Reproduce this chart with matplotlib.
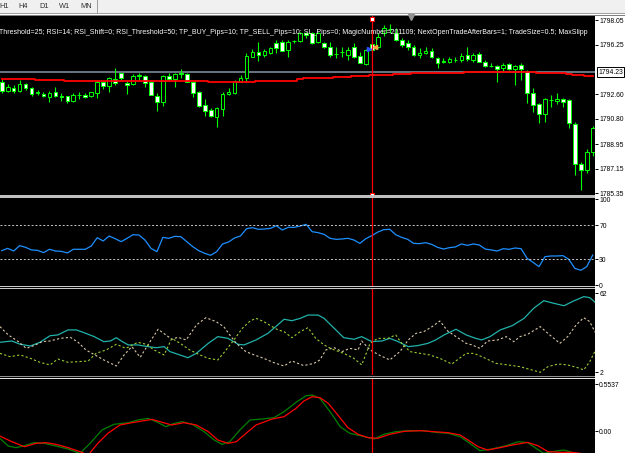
import matplotlib
matplotlib.use('Agg')
import matplotlib.pyplot as plt
import matplotlib.transforms as mtransforms
from matplotlib.patches import Rectangle

plt.rcParams['font.family'] = ['Liberation Sans', 'DejaVu Sans']

W, H = 625, 453

# --- price data (one candle per bar) ---
opens = [1793.52, 1792.86, 1793.08, 1792.86, 1793.38, 1793.08, 1792.75, 1792.64, 1792.42, 1792.77,
         1792.45, 1792.45, 1792.08, 1792.57, 1792.57, 1792.45, 1792.69, 1793.50, 1793.23, 1793.74,
         1794.18, 1793.45, 1793.33, 1794.04, 1793.94, 1793.52, 1792.47, 1792.05, 1793.94, 1793.72,
         1794.16, 1794.07, 1793.50, 1792.75, 1791.79, 1791.45, 1790.95, 1791.54, 1792.62, 1792.72,
         1793.52, 1793.77, 1795.36, 1795.73, 1795.48, 1795.61, 1796.39, 1796.46, 1795.85, 1796.51,
         1796.53, 1797.08, 1797.08, 1796.44, 1796.39, 1796.09, 1795.58, 1795.73, 1795.48, 1796.09,
         1795.41, 1794.82, 1796.29, 1796.09, 1797.08, 1797.39, 1797.08, 1796.58, 1796.36, 1796.09,
         1795.48, 1795.61, 1795.78, 1795.24, 1795.02, 1794.95, 1795.09, 1795.12, 1795.48, 1795.12,
         1795.53, 1794.99, 1794.70, 1794.68, 1794.51, 1794.80, 1794.43, 1794.75, 1794.33, 1792.67,
         1791.89, 1791.15, 1792.20, 1792.13, 1792.25, 1792.18, 1790.42, 1787.48, 1787.04, 1788.38]
highs = [1793.70, 1793.33, 1793.28, 1793.65, 1793.45, 1793.16, 1792.91, 1792.75, 1792.84, 1793.16,
         1792.72, 1792.50, 1792.67, 1792.75, 1792.72, 1792.79, 1793.65, 1793.60, 1793.85, 1794.55,
         1794.20, 1793.55, 1794.07, 1794.18, 1794.04, 1793.65, 1792.67, 1794.01, 1794.18, 1794.18,
         1794.48, 1794.18, 1793.55, 1792.84, 1792.23, 1791.59, 1791.67, 1792.77, 1793.04, 1793.65,
         1793.99, 1795.65, 1795.90, 1796.46, 1795.92, 1796.09, 1796.58, 1796.58, 1796.58, 1796.58,
         1797.15, 1797.19, 1797.19, 1797.19, 1796.46, 1796.46, 1796.09, 1796.09, 1796.09, 1796.34,
         1795.73, 1795.92, 1796.36, 1797.10, 1797.69, 1797.76, 1797.47, 1796.73, 1796.58, 1796.22,
         1795.98, 1796.09, 1795.98, 1795.36, 1795.24, 1795.34, 1795.36, 1795.61, 1796.07, 1795.61,
         1795.70, 1795.12, 1794.87, 1794.75, 1794.87, 1794.87, 1794.75, 1794.87, 1794.38, 1793.04,
         1791.94, 1792.30, 1792.55, 1792.72, 1792.30, 1792.23, 1790.59, 1787.65, 1788.56, 1790.27]
lows = [1792.72, 1792.79, 1792.72, 1792.79, 1792.91, 1792.47, 1792.55, 1792.40, 1792.03, 1792.38,
        1792.11, 1791.96, 1792.03, 1792.28, 1792.33, 1792.42, 1792.33, 1792.97, 1792.79, 1793.28,
        1793.65, 1792.64, 1793.28, 1793.63, 1793.16, 1792.52, 1791.37, 1791.76, 1793.65, 1793.16,
        1793.82, 1793.48, 1792.38, 1791.69, 1791.03, 1790.93, 1790.20, 1791.03, 1792.55, 1792.64,
        1793.48, 1793.52, 1795.31, 1795.07, 1795.31, 1795.56, 1795.61, 1795.78, 1795.31, 1796.34,
        1796.46, 1796.71, 1796.29, 1796.34, 1795.98, 1795.36, 1795.26, 1795.36, 1795.12, 1795.26,
        1794.87, 1794.75, 1795.70, 1796.00, 1796.88, 1797.10, 1796.51, 1796.07, 1795.85, 1795.41,
        1795.26, 1795.58, 1795.24, 1794.51, 1794.87, 1794.90, 1794.99, 1794.99, 1795.07, 1794.99,
        1794.97, 1794.58, 1794.58, 1793.52, 1794.26, 1794.38, 1793.28, 1793.65, 1791.98, 1791.32,
        1790.47, 1790.59, 1791.64, 1791.89, 1791.69, 1790.10, 1786.67, 1785.57, 1786.84, 1788.07]
closes = [1792.86, 1793.16, 1792.82, 1793.38, 1793.08, 1792.64, 1792.69, 1792.45, 1792.72, 1792.45,
          1792.40, 1792.13, 1792.52, 1792.52, 1792.42, 1792.75, 1793.50, 1793.21, 1793.80, 1793.41,
          1793.82, 1793.30, 1793.96, 1793.96, 1793.45, 1792.57, 1792.05, 1793.94, 1793.72, 1794.09,
          1794.07, 1793.52, 1792.67, 1791.76, 1791.40, 1790.98, 1791.57, 1792.62, 1792.79, 1793.58,
          1793.80, 1795.41, 1795.73, 1795.48, 1795.80, 1796.02, 1795.98, 1795.80, 1796.46, 1796.49,
          1797.08, 1796.95, 1796.34, 1797.10, 1796.09, 1795.48, 1795.53, 1795.68, 1795.85, 1795.31,
          1794.92, 1795.85, 1795.85, 1796.83, 1797.44, 1797.36, 1796.58, 1796.22, 1796.07, 1795.48,
          1795.65, 1795.78, 1795.36, 1794.92, 1794.97, 1795.17, 1795.14, 1795.41, 1795.17, 1795.48,
          1794.99, 1794.68, 1794.65, 1794.48, 1794.75, 1794.43, 1794.68, 1794.43, 1792.72, 1791.81,
          1791.15, 1792.23, 1792.16, 1792.25, 1792.05, 1790.47, 1787.46, 1787.04, 1788.38, 1790.10]
ma = [1793.70, 1793.70, 1793.70, 1793.70, 1793.70, 1793.70, 1793.63, 1793.63, 1793.63, 1793.63,
      1793.63, 1793.57, 1793.57, 1793.57, 1793.57, 1793.57, 1793.57, 1793.57, 1793.57, 1793.57,
      1793.57, 1793.57, 1793.57, 1793.57, 1793.55, 1793.55, 1793.55, 1793.55, 1793.55, 1793.55,
      1793.55, 1793.55, 1793.55, 1793.55, 1793.55, 1793.48, 1793.48, 1793.48, 1793.48, 1793.48,
      1793.48, 1793.48, 1793.48, 1793.55, 1793.55, 1793.55, 1793.55, 1793.55, 1793.55, 1793.55,
      1793.70, 1793.77, 1793.77, 1793.77, 1793.77, 1793.77, 1793.85, 1793.85, 1793.85, 1793.94,
      1793.94, 1793.94, 1794.04, 1794.04, 1794.04, 1794.04, 1794.09, 1794.09, 1794.09, 1794.14,
      1794.14, 1794.14, 1794.18, 1794.18, 1794.18, 1794.18, 1794.18, 1794.18, 1794.21, 1794.21,
      1794.21, 1794.21, 1794.21, 1794.21, 1794.21, 1794.21, 1794.21, 1794.21, 1794.21, 1794.21,
      1794.18, 1794.18, 1794.14, 1794.14, 1794.14, 1794.09, 1794.04, 1794.04, 1793.92, 1793.92]
bid = 1794.23
price_ticks = [1798.05, 1796.25, 1792.60, 1790.80, 1788.95, 1787.15, 1785.35]

# --- RSI (one value per bar) ---
rsi = [40.1, 42.8, 39.7, 45.9, 44.0, 40.9, 40.5, 37.8, 41.7, 39.7,
       39.3, 37.4, 41.7, 41.7, 41.7, 45.5, 55.2, 51.4, 57.2, 54.1,
       50.6, 54.5, 58.7, 58.3, 52.5, 42.8, 38.9, 55.6, 54.5, 56.8,
       56.4, 50.6, 44.8, 40.1, 37.0, 34.7, 38.9, 47.9, 50.2, 54.9,
       57.2, 65.7, 66.9, 65.0, 65.3, 66.1, 69.2, 64.2, 67.3, 67.3,
       68.8, 70.8, 62.2, 61.1, 59.1, 54.5, 53.3, 53.7, 54.5, 52.5,
       48.6, 54.1, 57.6, 61.8, 64.6, 65.0, 58.7, 55.6, 53.3, 48.6,
       48.3, 49.4, 47.5, 44.0, 42.0, 43.6, 44.4, 47.9, 46.3, 47.9,
       46.7, 42.0, 40.9, 39.7, 42.4, 41.7, 43.2, 42.4, 31.2, 26.5,
       21.5, 33.1, 33.9, 33.9, 34.3, 30.0, 19.5, 17.2, 21.5, 35.0]
rsi_levels = [70, 30]

# --- ADX / +DI / -DI (bar position, value) ---
adx_x = [-0.3, 1.7, 3.1, 4.8, 6.4, 8.1, 9.4, 11.1, 12.5, 13.8, 15.5, 17.1, 18.2, 19.2, 20.2,
         21.2, 22.8, 24.5, 25.9, 27.2, 28.2, 29.5, 31.2, 32.6, 34.6, 36.2, 37.9, 39.6, 40.6, 42.6,
         44.6, 45.9, 47.3, 48.6, 50.0, 51.3, 53.0, 54.0, 55.7, 57.3, 59.0, 60.3, 62.0, 63.7, 65.0,
         66.4, 68.1, 69.7, 71.4, 72.7, 74.1, 76.1, 77.8, 79.4, 80.4, 81.8, 83.5, 85.5, 87.5, 89.1,
         90.8, 92.5, 94.2, 95.8, 97.5, 98.5, 99.4]
adx = [24.8, 25.8, 23.3, 22.0, 24.8, 29.8, 30.4, 34.2, 34.2, 32.1, 29.1, 25.3, 25.8, 28.3, 25.3,
       22.8, 22.8, 21.5, 20.7, 21.5, 17.7, 15.7, 13.1, 16.4, 24.0, 29.1, 27.8, 23.3, 22.8, 26.6,
       31.6, 36.7, 42.3, 41.2, 43.0, 45.5, 45.5, 43.0, 35.4, 28.3, 27.1, 29.1, 25.3, 25.8, 27.8,
       25.3, 21.5, 22.3, 24.0, 26.6, 30.4, 34.7, 30.4, 27.8, 26.6, 29.1, 34.2, 37.4, 43.0, 50.6,
       56.4, 54.4, 52.6, 56.2, 59.5, 58.7, 55.2]
pdi_x = [-0.3, 1.1, 2.8, 4.1, 5.4, 6.8, 8.1, 9.8, 11.5, 12.8, 14.1, 15.8, 17.1, 19.2, 20.5,
         21.8, 23.2, 24.5, 26.2, 27.5, 28.5, 29.5, 30.9, 32.6, 34.2, 35.9, 37.2, 38.2, 39.3, 40.9,
         42.3, 43.9, 45.6, 47.3, 48.6, 50.6, 52.3, 53.3, 54.3, 55.7, 57.0, 58.3, 59.7, 60.3, 61.7,
         63.4, 65.0, 66.7, 68.1, 69.4, 70.7, 72.1, 73.4, 74.7, 76.1, 77.8, 78.8, 80.1, 81.4, 83.1,
         84.5, 85.8, 86.8, 88.1, 90.2, 91.8, 93.5, 94.8, 96.2, 97.5, 98.5, 99.4]
pdi = [36.7, 30.4, 25.3, 20.2, 22.3, 25.3, 25.8, 27.8, 28.6, 24.8, 19.0, 14.7, 11.4, 6.8, 15.2,
       21.5, 13.4, 22.8, 34.7, 30.4, 27.1, 28.6, 26.6, 37.9, 43.5, 40.5, 36.7, 30.4, 24.0, 17.7,
       15.2, 12.6, 9.3, 6.8, 10.6, 7.1, 8.8, 11.4, 19.0, 20.7, 17.7, 20.2, 19.0, 25.8, 19.0,
       14.7, 11.4, 17.7, 26.6, 31.6, 32.9, 36.7, 41.0, 33.4, 29.1, 24.0, 22.8, 20.2, 25.8, 26.6,
       29.1, 25.3, 29.1, 30.9, 36.7, 30.4, 24.0, 29.1, 37.9, 43.5, 40.5, 32.4]
mdi_x = [-0.3, 1.4, 3.1, 4.8, 6.4, 8.1, 9.4, 11.1, 12.8, 14.5, 15.8, 17.5, 19.2, 20.8, 22.8,
         24.2, 25.5, 27.2, 28.5, 29.9, 31.5, 33.2, 34.6, 36.2, 37.6, 38.9, 40.3, 41.6, 42.6, 43.9,
         45.3, 46.3, 47.3, 48.6, 50.0, 51.3, 52.6, 54.0, 55.3, 57.3, 59.0, 60.3, 61.7, 63.0, 64.7,
         66.0, 67.0, 68.4, 70.1, 71.7, 73.4, 75.4, 76.8, 77.8, 79.1, 80.8, 82.8, 84.8, 86.8, 88.8,
         90.2, 91.5, 93.2, 94.8, 96.5, 97.5, 98.5, 99.4]
mdi = [16.4, 13.9, 15.2, 12.6, 9.6, 7.6, 12.1, 9.6, 10.1, 10.6, 16.4, 19.0, 23.3, 20.2, 24.8,
       23.3, 19.0, 15.2, 27.8, 24.0, 19.0, 15.2, 12.6, 11.4, 19.0, 26.6, 35.4, 41.0, 43.0, 40.5,
       36.7, 34.2, 32.9, 28.3, 32.9, 35.9, 27.8, 22.8, 19.7, 16.4, 12.6, 7.6, 24.0, 27.8, 27.8,
       30.4, 24.0, 17.7, 16.4, 15.2, 12.6, 8.3, 13.1, 16.4, 16.4, 13.1, 8.8, 7.6, 6.3, 3.8,
       2.0, 6.3, 8.3, 7.6, 5.5, 3.8, 10.1, 18.2]

# --- oscillator main / signal (bar position, value) ---
osc_x = [-0.3, 1.1, 2.4, 3.8, 5.4, 7.1, 9.1, 11.1, 13.1, 14.8, 16.8, 18.8, 21.2, 22.8, 24.5,
         25.9, 27.5, 28.9, 30.2, 31.9, 33.9, 35.6, 36.9, 38.2, 39.9, 41.6, 43.6, 45.6, 47.3, 49.3,
         51.0, 52.0, 53.3, 55.0, 56.7, 58.3, 60.3, 62.4, 64.0, 66.0, 68.1, 70.7, 72.7, 74.8, 76.8,
         78.4, 80.1, 82.1, 84.5, 86.5, 88.1, 89.5, 90.8, 92.8, 94.2, 95.5, 96.9]
osc = [-0.086, -0.177, -0.196, -0.173, -0.137, -0.145, -0.177, -0.212, -0.263, -0.145,
       0.012, 0.079, 0.098, 0.130, 0.149, 0.110, 0.051, 0.090, 0.110, 0.079,
       -0.008, -0.106, -0.157, -0.126, 0.012, 0.130, 0.141, 0.157, 0.228, 0.338,
       0.416, 0.424, 0.385, 0.228, 0.051, -0.027, -0.059, -0.094, -0.039, -0.008,
       0.004, 0.004, -0.016, -0.027, -0.067, -0.145, -0.232, -0.212, -0.173, -0.126,
       -0.137, -0.204, -0.263, -0.236, -0.224, -0.251, -0.302]
sig_x = [-0.3, 1.7, 3.8, 5.8, 7.4, 9.1, 11.1, 13.1, 14.5, 16.1, 17.8, 19.8, 21.8, 23.5, 25.2,
         26.9, 28.5, 30.5, 32.6, 34.6, 36.2, 37.9, 39.3, 40.6, 42.6, 45.3, 47.3, 49.3, 50.6, 52.0,
         53.3, 54.7, 56.3, 58.0, 59.7, 61.4, 63.0, 65.0, 67.4, 70.1, 72.4, 74.8, 76.8, 78.1, 79.8,
         81.4, 83.5, 85.5, 88.1, 89.8, 91.5, 93.5, 95.5, 96.9]
sig = [-0.059, -0.126, -0.185, -0.145, -0.137, -0.157, -0.196, -0.243, -0.283, -0.145,
       -0.027, 0.071, 0.098, 0.118, 0.137, 0.102, 0.071, 0.098, 0.071, -0.008,
       -0.106, -0.145, -0.126, -0.047, 0.071, 0.141, 0.169, 0.267, 0.353, 0.404,
       0.393, 0.326, 0.188, 0.039, -0.039, -0.079, -0.086, -0.039, -0.004, 0.004,
       -0.008, -0.020, -0.047, -0.106, -0.185, -0.224, -0.196, -0.165, -0.134, -0.173,
       -0.243, -0.251, -0.251, -0.263]

header = ("Threshold=25; RSI=14; RSI_Shift=0; RSI_Threshold=50; TP_BUY_Pips=10; "
          "TP_SELL_Pips=10; SL_Pips=0; MagicNumber=201109; NextOpenTradeAfterBars=1; "
          "TradeSize=0.5; MaxSlipp")
periods = ['H1', 'H4', 'D1', 'W1', 'MN']
period_x = [-1, 18, 39, 59, 80]
vline_bar = 62

fig = plt.figure(figsize=(W / 100, H / 100), dpi=100, facecolor='white')


def band(y0, y1, color, x0=0, x1=595, z=2):
    fig.add_artist(Rectangle((x0 / W, 1 - y1 / H), (x1 - x0) / W, (y1 - y0) / H,
                             transform=fig.transFigure, color=color, lw=0, zorder=z))


def panel(top, bot):
    ax = fig.add_axes([0, 1 - bot / H, 595 / W, (bot - top) / H])
    ax.set_facecolor('black')
    ax.set_xlim(-0.285, 99.38)
    ax.set_xticks([])
    for s in ax.spines.values():
        s.set_visible(False)
    ax.yaxis.tick_right()
    ax.tick_params(axis='y', length=2, width=0.7, pad=1, labelsize=4.9,
                   colors='black')
    ax.axvline(vline_bar, color='#ff0000', lw=0.9, zorder=6)
    return ax


# toolbar + chart background
band(0, 13, '#f0f0f0', 0, W, -2)
band(13, 14, '#a0a0a0', 0, W, -1)
band(15, 16, '#808080', 0, W, -1)
band(16, H, 'black', 0, 595, -1)
band(0, 13, '#a0a0a0', 97, 98, -1)
for t, px in zip(periods, period_x):
    fig.text(px / W, 1 - 6 / H, t, fontsize=5.3, color='#303030', va='center')

ax = panel(16, 195)
ax2 = panel(198, 286)
ax3 = panel(289, 375)
ax4 = panel(379, 453)

# main chart
bars = list(range(len(opens)))
ax.set_ylim(1785.21, 1798.35)
ax.axhline(bid, color='#708090', lw=1.3, zorder=1)
ax.vlines(bars, lows, highs, color='#00ff00', lw=0.8, zorder=2)
body_bot = [min(o, c) for o, c in zip(opens, closes)]
body_h = [max(abs(c - o), 0.01) for o, c in zip(opens, closes)]
body_col = ['white' if c < o else 'black' for o, c in zip(opens, closes)]
ax.bar(bars, body_h, bottom=body_bot, width=0.62, color=body_col,
       edgecolor='#00ff00', linewidth=0.7, zorder=3)
ax.step(bars, ma, where='mid', color='#ff0000', lw=1.3, zorder=4)
ax.set_yticks(price_ticks)
ax.set_yticklabels(['%.2f' % p for p in price_ticks])
ax.plot([vline_bar], [1798.14], marker='s', ms=3.2, mfc='white', mec='red', mew=0.7,
        zorder=7, clip_on=False)
ax.plot([vline_bar], [1785.24], marker='s', ms=3.2, mfc='white', mec='red', mew=0.7,
        zorder=7, clip_on=False)
ax.plot([68.6], [1798.25], marker='v', ms=4, color='#909090', zorder=7, clip_on=False)
ax.plot([61.5], [1795.95], marker='>', ms=3, color='#3050ff', zorder=7)
ax.plot([62.6], [1796.1], marker='<', ms=3, color='#ffa040', zorder=7)
trans = mtransforms.blended_transform_factory(ax.transAxes, ax.transData)
ax.text(1 + 3 / 595, bid, '%.2f' % bid, transform=trans, fontsize=4.9, va='center',
        ha='left', clip_on=False, zorder=8,
        bbox=dict(boxstyle='square,pad=0.2', fc='white', ec='black', lw=0.7))
fig.text(-0.001, 1 - 32 / H, header, color='white', fontsize=5.0, va='center')

# RSI
ax2.set_ylim(-1.1, 101.5)
ax2.plot(bars, rsi, color='#1e90ff', lw=0.9)
for lv in rsi_levels:
    ax2.axhline(lv, color='#c8c8c8', lw=0.7, ls=(0, (2, 2)))
ax2.set_yticks([100, 70, 30, 0])
ax2.set_yticklabels(['100', '70', '30', '0'])

# ADX
ax3.set_ylim(-0.05, 65.3)
ax3.plot(adx_x, adx, color='#20b2aa', lw=0.9)
ax3.plot(pdi_x, pdi, color='#d8c8a8', lw=0.8, ls=(0, (2, 2)))
ax3.plot(mdi_x, mdi, color='#9acd32', lw=0.8, ls=(0, (2, 2)))
ax3.set_yticks([62, 2])
ax3.set_yticklabels(['62', '2'])

# oscillator
ax4.set_ylim(-0.259, 0.6126)
ax4.plot(osc_x, osc, color='#008000', lw=0.9)
ax4.plot(sig_x, sig, color='#ff0000', lw=0.9)
ax4.set_yticks([0.5537, 0.0])
ax4.set_yticklabels(['0.5537', '0.00'])

# panel separators
band(195, 197.5, '#c0c0c0', z=5)
band(286, 287, '#c8c8c8', z=5)
band(288, 289, '#c8c8c8', z=5)
band(375.5, 376.5, '#909090', z=5)
band(378, 379, '#e0e0e0', z=5)

fig.savefig('out.png', dpi=100, facecolor='white')
